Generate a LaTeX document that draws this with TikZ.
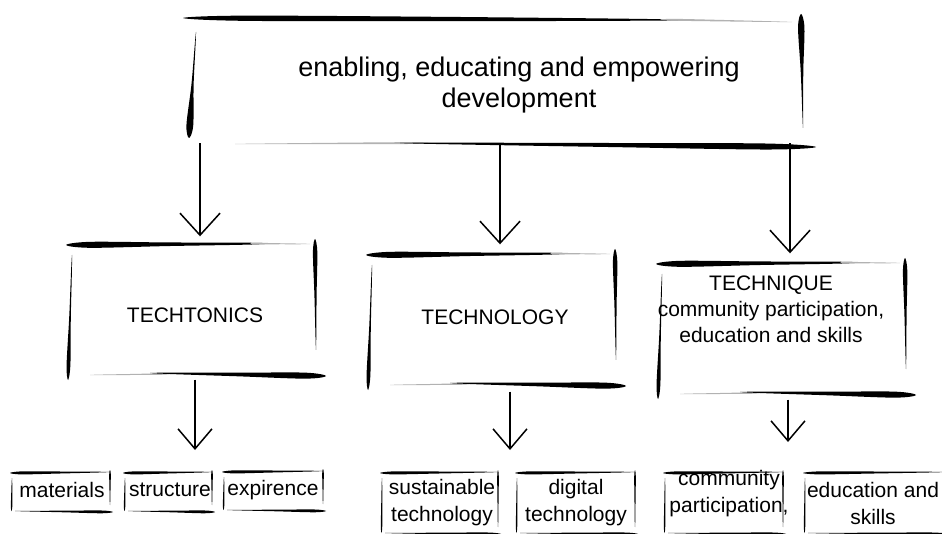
\documentclass[tikz,border=0pt]{standalone}
\usepackage{fontspec}
\setmainfont{Liberation Sans}
\usetikzlibrary{calc,arrows.meta}
% tapered brush stroke: [colour]{A}{B}{half width near A}{middle}{near B}
\newcommand\brush[6][black]{%
  \coordinate (sA) at (#2);
  \coordinate (sB) at (#3);
  \coordinate (sM1) at ($(sA)!0.12!(sB)$);
  \coordinate (sM2) at ($(sA)!0.5!(sB)$);
  \coordinate (sM3) at ($(sA)!0.88!(sB)$);
  \coordinate (sP1) at ($(sM1)!#4pt!90:(sB)$);
  \coordinate (sQ1) at ($(sM1)!#4pt!-90:(sB)$);
  \coordinate (sP2) at ($(sM2)!#5pt!90:(sB)$);
  \coordinate (sQ2) at ($(sM2)!#5pt!-90:(sB)$);
  \coordinate (sP3) at ($(sM3)!#6pt!90:(sB)$);
  \coordinate (sQ3) at ($(sM3)!#6pt!-90:(sB)$);
  \fill[#1] plot[smooth cycle,tension=0.55] coordinates
    {(sA) (sP1) (sP2) (sP3) (sB) (sQ3) (sQ2) (sQ1)};
}
% frame of a middle box, relative to its top-left corner
\newcommand\bigframe{%
  \brush{-1,0}{203,-1.5}{3.0}{1.8}{1.0}
  \brush[black!30]{183,-1.5}{243,-1}{0.7}{0.5}{0.3}
  \brush{248,-6}{249,105}{2.2}{1.1}{0.4}
  \brush{5,10}{1,135}{0.4}{0.8}{1.9}
  \brush[black!30]{23,130}{103,129}{0.3}{0.5}{0.7}
  \brush{83,128}{259,131}{0.7}{1.8}{3.0}
}
% frame of a small box: x1 y1 x2 y2
\newcommand\smallframe[4]{%
  \brush{{#1-2},#2}{#3,{#2-1}}{1.5}{1.0}{0.4}
  \brush{#1,{#2+5}}{{#1-0.5},#4}{0.3}{0.55}{0.7}
  \brush{#3,{#2-3}}{#3,{#4-6}}{0.8}{0.55}{0.3}
  \brush{{#1+3},#4}{{#3+3},{#4+1}}{0.3}{0.8}{1.4}
}
\tikzset{
  frame/.style={rectangle,draw=none,inner sep=0pt},
  txt/.style={align=center,inner sep=0pt,font=\fontsize{21}{26}\selectfont},
  small/.style={align=center,inner sep=0pt,font=\fontsize{21}{27}\selectfont},
  arr/.style={line width=1.5pt,-{Straight Barb[length=22pt,width=40pt,line width=1.5pt]}},
  arrs/.style={line width=1.5pt,-{Straight Barb[length=20pt,width=34pt,line width=1.5pt]}}
}
\begin{document}
\begin{tikzpicture}[x=1pt,y=-1pt]
\useasboundingbox (0,0) rectangle (942,534);
\fill[white] (0,0) rectangle (942,534);

% frames (named nodes)
\node[frame,minimum width=608pt,minimum height=126pt] (main) at (496,80) {};
\node[frame,minimum width=248pt,minimum height=131pt] (t1) at (191,310) {};
\node[frame,minimum width=248pt,minimum height=131pt] (t2) at (491,320) {};
\node[frame,minimum width=248pt,minimum height=131pt] (t3) at (781,329) {};

\node[frame,minimum width=98pt,minimum height=38pt] (b1) at (61,492) {};
\node[frame,minimum width=87pt,minimum height=38pt] (b2) at (168.5,492) {};
\node[frame,minimum width=99pt,minimum height=38pt] (b3) at (273.5,491) {};
\node[frame,minimum width=116pt,minimum height=60pt] (b4) at (440,503) {};
\node[frame,minimum width=118pt,minimum height=60pt] (b5) at (576,503) {};
\node[frame,minimum width=118pt,minimum height=60pt] (b6) at (724,503) {};
\node[frame,minimum width=140pt,minimum height=60pt] (b7) at (875,503) {};

% main frame strokes
\brush{183,18}{690,20}{2.6}{2.2}{1.0}
\brush[black!30]{660,19.5}{792,22}{0.9}{0.7}{0.3}
\brush{801,14}{803,128}{3.2}{1.3}{0.4}
\brush{196,32}{189,138}{0.4}{1.1}{3.4}
\brush[black!30]{235,144}{430,143}{0.3}{0.7}{0.9}
\brush{400,143}{816,147}{0.8}{2.0}{3.0}

% middle frames
\begin{scope}[shift={(67,245)}]\bigframe\end{scope}
\begin{scope}[shift={(367,255)}]\bigframe\end{scope}
\begin{scope}[shift={(657,264)}]\bigframe\end{scope}

% small frames
\smallframe{12}{473}{110}{511}
\smallframe{125}{473}{212}{511}
\smallframe{224}{472}{323}{510}
\smallframe{382}{473}{498}{533}
\smallframe{517}{473}{635}{533}
\smallframe{665}{473}{783}{533}
\smallframe{805}{473}{945}{533}

% texts
\node[align=center,inner sep=0pt,font=\fontsize{27}{31}\selectfont] (mt) at (519,85)
  {enabling, educating and empowering\\development};
\node[txt] (t1t) at (195,315) {TECHTONICS};
\node[txt] (t2t) at (495,317) {TECHNOLOGY};
\node[txt] (t3t) at (771,309) {TECHNIQUE\\community participation,\\education and skills};

\node[small] (b1t) at (62,490) {materials};
\node[small] (b2t) at (170,490) {structure};
\node[small] (b3t) at (273,490) {expirence};
\node[small] (b4t) at (442,502.5) {sustainable\\technology};
\node[small] (b5t) at (576,502.5) {digital\\technology};
\node[small] (b6t) at (729,493.5) {community\\participation,};
\node[small] (b7t) at (873,503) {education and\\skills};

% connectors
\draw[arr] ($(t1.north |- main.south)+(9,0)$) -- ($(t1.north)+(9,-8)$);
\draw[arr] ($(t2.north |- main.south)+(9,0)$) -- ($(t2.north)+(9,-10)$);
\draw[arr] ($(t3.north |- main.south)+(9,0)$) -- ($(t3.north)+(9,-10)$);

\coordinate (g1) at (195,450);
\coordinate (g2) at (510,450);
\coordinate (g3) at (788,442);
\draw[arrs] (t1.south -| g1) ++(0,4) -- (g1);
\draw[arrs] (t2.south -| g2) ++(0,6) -- (g2);
\draw[arrs] (t3.south -| g3) ++(0,5) -- (g3);
\end{tikzpicture}
\end{document}
